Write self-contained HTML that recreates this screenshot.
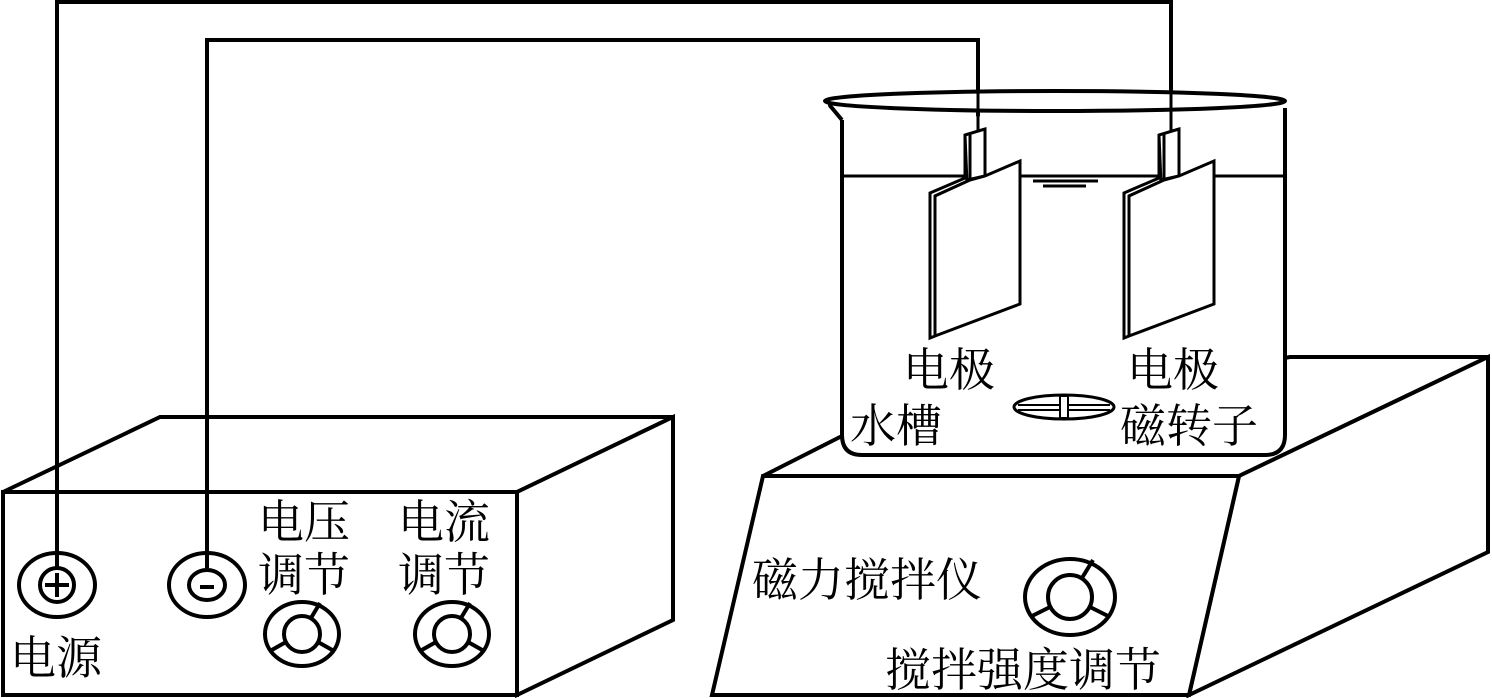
<!DOCTYPE html>
<html><head><meta charset="utf-8"><style>
html,body{margin:0;padding:0;background:#fff}
svg{display:block}
text{font-family:"Liberation Serif","Noto Serif CJK SC","Noto Sans CJK SC",serif;font-size:46px;fill:#000}
</style></head><body>
<svg width="1492" height="698" viewBox="0 0 1492 698" xmlns="http://www.w3.org/2000/svg">
<g fill="none" stroke="#000" stroke-width="4" stroke-linejoin="miter">
<polygon points="3,492 160,417 673,417 517,492" fill="#fff"/>
<polygon points="517,492 673,417 673,620 517,695" fill="#fff"/>
<rect x="3" y="492" width="514" height="203" fill="#fff"/>
<polyline points="57,568 57,2 1171,2 1171,130"/>
<polyline points="207,568 207,40 978,40 978,130"/>
<ellipse cx="57" cy="585" rx="38" ry="32"/>
<circle cx="57" cy="585" r="17"/>
<line x1="45" y1="585" x2="69" y2="585"/>
<line x1="57" y1="573" x2="57" y2="597"/>
<ellipse cx="207" cy="585" rx="38" ry="32"/>
<ellipse cx="207" cy="585" rx="18" ry="15"/>
<line x1="200" y1="587" x2="214" y2="587"/>
<g id="k1">
<ellipse cx="302" cy="634" rx="37" ry="32"/>
<circle cx="302" cy="634" r="18"/>
<line x1="311" y1="618" x2="320" y2="603"/>
<line x1="286" y1="642" x2="270" y2="651"/>
<line x1="318" y1="642" x2="334" y2="651"/>
</g>
<use href="#k1" x="150"/>
<polygon points="763,476 840,437 1290,357 1488,357 1239,476" fill="#fff"/>
<polygon points="1239,476 1488,357 1488,552 1189,695" fill="#fff"/>
<polygon points="763,476 1239,476 1189,695 712,695" fill="#fff"/>
<ellipse cx="1070" cy="597" rx="45" ry="38"/>
<circle cx="1070" cy="597" r="22"/>
<line x1="1082" y1="578" x2="1093" y2="560"/>
<line x1="1050" y1="607" x2="1032" y2="616"/>
<line x1="1090" y1="607" x2="1108" y2="616"/>
<path d="M842,120 L842,435 Q842,455 862,455 L1265,455 Q1285,455 1285,435 L1285,108" fill="#fff"/>
<path d="M842,120 L832,108 Q826,103 838,100" />
<ellipse cx="1055" cy="101" rx="230" ry="10" fill="#fff"/>
<line x1="978" y1="80" x2="978" y2="132" stroke-width="3"/>
<line x1="1171" y1="80" x2="1171" y2="132" stroke-width="3"/>
<line x1="842" y1="176" x2="1285" y2="176" stroke-width="3"/>
<line x1="1033" y1="181" x2="1098" y2="181" stroke-width="3"/>
<line x1="1043" y1="186" x2="1086" y2="186" stroke-width="3"/>
<g id="el" stroke-width="3">
<polygon points="965,135 985,129 985,176 967,180 967,183" fill="#fff"/>
<polyline points="965,135 965,178 930,193 930,338 935,336"/>
<polyline points="970,134 970,180 935,196 935,336"/>
<polyline points="985,176 985,129"/>
<polygon points="935,196 970,180 985,176 1020,161 1020,304 935,336" fill="#fff"/>
<line x1="965" y1="135" x2="985" y2="129"/>
</g>
<use href="#el" x="194"/>
<ellipse cx="1064" cy="407" rx="50" ry="12" stroke-width="3"/>
<line x1="1018" y1="405" x2="1110" y2="405" stroke-width="2"/>
<line x1="1018" y1="410" x2="1110" y2="410" stroke-width="2"/>
<rect x="1060" y="396" width="8" height="22" fill="#fff" stroke-width="2"/>
</g>
<text x="258" y="538">电压</text>
<text x="258" y="591">调节</text>
<text x="398" y="538">电流</text>
<text x="398" y="591">调节</text>
<text x="10" y="674">电源</text>
<text x="903" y="386">电极</text>
<text x="1127" y="386">电极</text>
<text x="850" y="442">水槽</text>
<text x="1120" y="442">磁转子</text>
<text x="752" y="596">磁力搅拌仪</text>
<text x="885" y="686">搅拌强度调节</text>
</svg>
</body></html>
